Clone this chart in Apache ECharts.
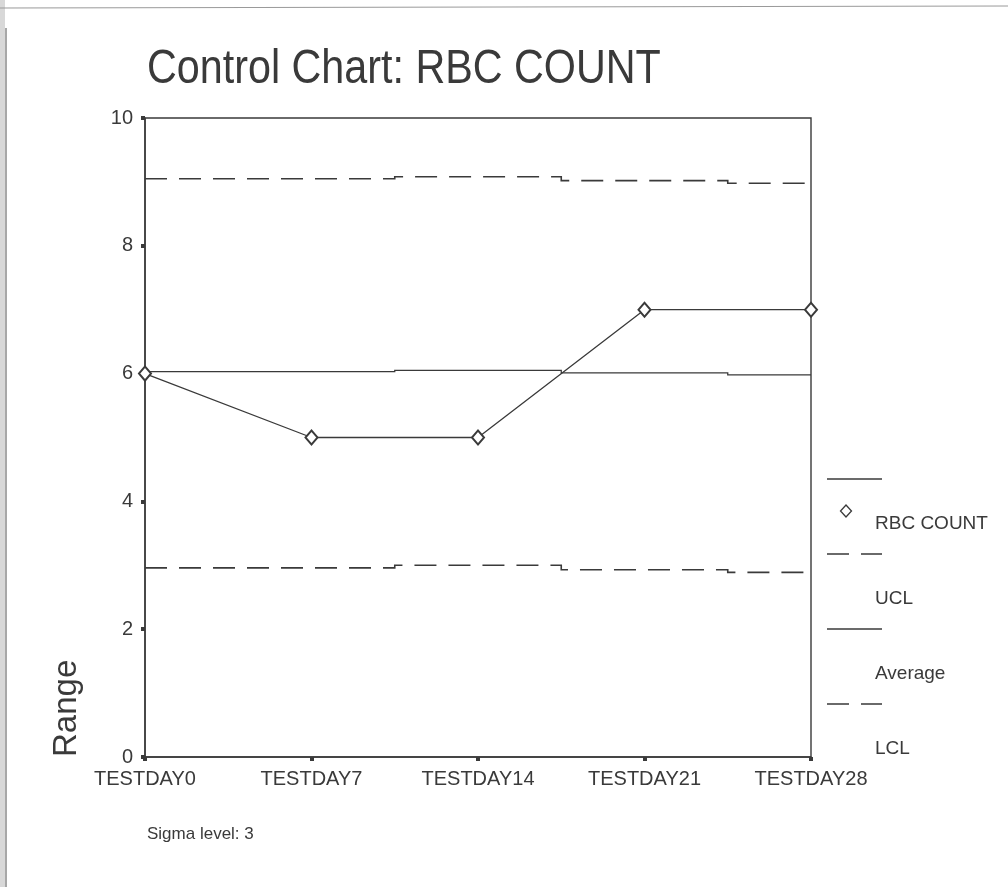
<!DOCTYPE html>
<html>
<head>
<meta charset="utf-8">
<script src="https://cdn.jsdelivr.net/npm/echarts@6/dist/echarts.min.js"></script>
<style>html,body{margin:0;padding:0;background:#fff;}#c{width:1008px;height:887px;}</style>
</head>
<body>
<div id="c"></div>
<script>
var categories = ['TESTDAY0', 'TESTDAY7', 'TESTDAY14', 'TESTDAY21', 'TESTDAY28'];
var rbcCount = [6, 5, 5, 7, 7];
var ucl = [9.05, 9.05, 9.08, 9.02, 8.98];
var average = [6.03, 6.03, 6.05, 6.01, 5.98];
var lcl = [2.96, 2.96, 3.0, 2.93, 2.89];
var seriesNames = ['RBC COUNT', 'UCL', 'Average', 'LCL'];

var FONT = '"Liberation Sans", Arial, sans-serif';
var INK = '#3a3a3a';
var chart = echarts.init(document.getElementById('c'), null, {renderer: 'canvas'});

// step line (SPSS style: steps at midpoints between subgroups) drawn through the axis scales
function stepSeries(name, values, dash) {
  return {
    name: name, type: 'custom',
    data: values.map(function (v, i) { return [i, v]; }),
    encode: {x: 0, y: 1},
    renderItem: function (params, api) {
      if (params.dataIndex !== 0) return null;
      var pts = values.map(function (v, i) { return api.coord([i, v]); });
      var path = [pts[0]];
      for (var i = 0; i < pts.length - 1; i++) {
        var mx = (pts[i][0] + pts[i + 1][0]) / 2;
        path.push([mx, pts[i][1]]);
        path.push([mx, pts[i + 1][1]]);
      }
      path.push(pts[pts.length - 1]);
      return {
        type: 'polyline', shape: {points: path},
        style: {stroke: INK, lineWidth: dash ? 1.6 : 1.3, lineDash: dash ? [22, 12] : null, fill: null}
      };
    },
    z: 3
  };
}

// legend drawn in SPSS style: swatch above-left, label below-right
var legendItems = [];
var lx = 827, ly0 = 479, step = 75;
seriesNames.forEach(function (name, i) {
  var y = ly0 + i * step;
  var dashed = (name === 'UCL' || name === 'LCL');
  legendItems.push({
    type: 'line', shape: {x1: lx, y1: y, x2: lx + 55, y2: y},
    style: {stroke: INK, lineWidth: 1.3, lineDash: dashed ? [22, 12] : null}
  });
  if (name === 'RBC COUNT') {
    legendItems.push({
      type: 'polygon', shape: {points: [[846, 505], [851.5, 511], [846, 517], [840.5, 511]]},
      style: {fill: '#fff', stroke: INK, lineWidth: 1.3}
    });
  }
  legendItems.push({
    type: 'text', x: 875, y: y + 45,
    style: {text: name, font: '19px ' + FONT, fill: INK, verticalAlign: 'middle', textVerticalAlign: 'middle'}
  });
});

var option = {
  backgroundColor: '#fff',
  animation: false,
  grid: {
    left: 145, right: 197, top: 118, bottom: 130,
    show: true, borderColor: INK, borderWidth: 1.4, backgroundColor: 'transparent'
  },
  xAxis: {
    type: 'category', data: categories, boundaryGap: false,
    axisLine: {lineStyle: {color: INK, width: 1.5}},
    axisTick: {show: true, length: 4, alignWithLabel: true, lineStyle: {color: INK, width: 4}},
    axisLabel: {fontFamily: FONT, fontSize: 20, color: INK, margin: 12},
    splitLine: {show: false}
  },
  yAxis: {
    type: 'value', min: 0, max: 10, interval: 2,
    axisLine: {show: true, lineStyle: {color: INK, width: 1.5}},
    axisTick: {show: true, length: 4, lineStyle: {color: INK, width: 4}},
    axisLabel: {fontFamily: FONT, fontSize: 20, color: INK, margin: 12},
    splitLine: {show: false}
  },
  series: [
    {
      name: seriesNames[0], type: 'line', data: rbcCount,
      symbol: 'emptyDiamond', symbolSize: [12, 14], showSymbol: true,
      lineStyle: {color: INK, width: 1.3},
      itemStyle: {color: INK, borderColor: INK, borderWidth: 1.3},
      z: 5
    },
    stepSeries(seriesNames[1], ucl, true),
    stepSeries(seriesNames[2], average, false),
    stepSeries(seriesNames[3], lcl, true)
  ],
  graphic: [
    // scanned page edges
    {type: 'rect', shape: {x: 0, y: 0, width: 5, height: 887}, style: {fill: '#d8d8d8'}, silent: true},
    {type: 'line', shape: {x1: 6, y1: 28, x2: 6, y2: 887}, style: {stroke: '#8a8a8a', lineWidth: 1.5}, silent: true},
    {type: 'line', shape: {x1: 0, y1: 8, x2: 1008, y2: 6}, style: {stroke: '#9a9a9a', lineWidth: 1.2}, silent: true},
    {
      type: 'text', x: 147, y: 70, scaleX: 0.86,
      style: {text: 'Control Chart: RBC COUNT', font: '48px ' + FONT, fill: INK,
              align: 'left', verticalAlign: 'middle', textAlign: 'left', textVerticalAlign: 'middle'}
    },
    {
      type: 'text', x: 83, y: 757, rotation: Math.PI / 2,
      style: {text: 'Range', font: '33px ' + FONT, fill: INK,
              align: 'left', verticalAlign: 'bottom', textAlign: 'left', textVerticalAlign: 'bottom'}
    },
    {
      type: 'text', x: 147, y: 834,
      style: {text: 'Sigma level: 3', font: '17px ' + FONT, fill: INK, verticalAlign: 'middle', textVerticalAlign: 'middle'}
    }
  ].concat(legendItems)
};
chart.setOption(option);
</script>
</body>
</html>
